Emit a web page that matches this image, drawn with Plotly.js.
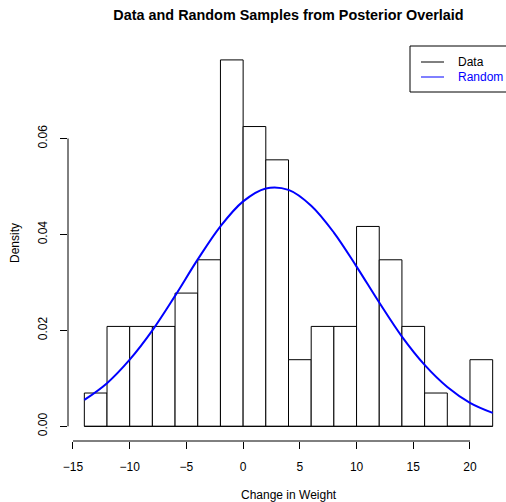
<!DOCTYPE html>
<html>
<head>
<meta charset="utf-8">
<script src="https://cdn.plot.ly/plotly-3.0.1.min.js"></script>
<style>
html,body{margin:0;padding:0;overflow:hidden;background:#fff;}
#chart{width:510px;height:502px;}
</style>
</head>
<body>
<div id="chart"></div>
<script>
// Histogram bins (left edges, width 2) and densities
const binLeft = [-14,-12,-10,-8,-6,-4,-2,0,2,4,6,8,10,12,14,16,18,20];
const binWidth = 2;
const density = [0.00694,0.02083,0.02083,0.02083,0.02778,0.03472,0.07639,0.0625,0.05556,0.01389,0.02083,0.02083,0.04167,0.03472,0.02083,0.00694,0,0.01389];

// Overlaid curve
const curveX = [-14,-12,-10,-8,-6,-4,-2,0,2,4,6,8,10,12,14,16,18,20,22];
const curveY = [0.0055,0.0090,0.0139,0.0200,0.0272,0.0348,0.0417,0.0469,0.0496,0.0493,0.0460,0.0404,0.0333,0.0258,0.0187,0.0128,0.0082,0.0049,0.0028];

const xTicks = [-15,-10,-5,0,5,10,15,20];
const yTicks = [0,0.02,0.04,0.06];
const legendLabels = ["Data","Random"];
const legendColors = ["#000000","#0000ff"];

const FONT = "Liberation Sans, Arial, Helvetica, sans-serif";
const W = 510, H = 502, ML = 68, MR = 1, MT = 45, MB = 61;
const PW = W - ML - MR, PH = H - MT - MB;
const px = v => (v - ML) / PW;          // pixel x -> paper x
const py = v => (H - MB - v) / PH;      // pixel y -> paper y

const centers = binLeft.map(b => b + binWidth / 2);

const traces = [
  {
    type: 'bar',
    x: centers,
    y: density,
    width: binLeft.map(() => binWidth),
    marker: {color: 'rgba(255,255,255,1)', line: {color: '#000', width: 1}},
    hoverinfo: 'skip',
    showlegend: false
  },
  {
    type: 'scatter',
    mode: 'lines',
    x: curveX,
    y: curveY,
    line: {color: '#0000ff', width: 2, shape: 'spline', smoothing: 1},
    hoverinfo: 'skip',
    showlegend: false
  }
];

const shapes = [
  // baseline under histogram
  {type:'line', xref:'x', yref:'y', x0: binLeft[0], x1: binLeft[binLeft.length-1] + binWidth, y0: 0, y1: 0, line:{color:'#000', width:1}},
  // x axis line (R style, tick span only)
  {type:'line', xref:'x', yref:'paper', x0: xTicks[0], x1: xTicks[xTicks.length-1], y0: 0, y1: 0, line:{color:'#000', width:1}},
  // y axis line
  {type:'line', xref:'paper', yref:'y', x0: 0, x1: 0, y0: yTicks[0], y1: yTicks[yTicks.length-1], line:{color:'#000', width:1}},
  // legend box
  {type:'rect', xref:'paper', yref:'paper', x0: px(410), x1: px(509), y0: py(92), y1: py(46), line:{color:'#000', width:1}, fillcolor:'rgba(255,255,255,1)'}
];

const annotations = [
  {text:'Density', xref:'paper', yref:'paper', x:0, y:0.5, xshift: 15 - ML, textangle:-90, showarrow:false, xanchor:'center', yanchor:'middle', font:{family:FONT, size:12, color:'#000'}},
  {text:'Change in Weight', xref:'paper', yref:'paper', x:0.5, y:0, yshift: -(495 - (H - MB)), showarrow:false, xanchor:'center', yanchor:'middle', font:{family:FONT, size:12, color:'#000'}}
];

const legendY = [62, 77];
legendLabels.forEach((lab, i) => {
  shapes.push({type:'line', xref:'paper', yref:'paper', x0: px(421), x1: px(444), y0: py(legendY[i]), y1: py(legendY[i]), line:{color: legendColors[i], width:1}});
  annotations.push({text: lab, xref:'paper', yref:'paper', x: px(456), y: py(legendY[i]), xanchor:'left', yanchor:'middle', showarrow:false, font:{family:FONT, size:12, color: legendColors[i]}});
});

const layout = {
  width: W, height: H,
  margin: {l: ML, r: MR, t: MT, b: MB, pad: 0},
  paper_bgcolor: '#fff', plot_bgcolor: '#fff',
  font: {family: FONT, size: 12, color: '#000'},
  title: {
    text: '<b>Data and Random Samples from Posterior Overlaid</b>',
    font: {family: FONT, size: 14.4, color: '#000'},
    xref: 'container', yref: 'container',
    x: 288.5 / W, y: 1 - 15 / H, xanchor: 'center', yanchor: 'middle'
  },
  xaxis: {
    range: [-15.44, 23.44],
    tickvals: xTicks,
    ticks: 'outside', ticklen: 7, tickwidth: 1, tickcolor: '#000',
    ticklabelstandoff: 8,
    showline: false, showgrid: false, zeroline: false,
    tickfont: {family: FONT, size: 12, color: '#000'},
    fixedrange: true
  },
  yaxis: {
    range: [-0.00306, 0.0795],
    tickvals: yTicks,
    ticktext: yTicks.map(v => v.toFixed(2)),
    tickangle: -90,
    ticks: 'outside', ticklen: 7, tickwidth: 1, tickcolor: '#000',
    ticklabelstandoff: 8,
    showline: false, showgrid: false, zeroline: false,
    tickfont: {family: FONT, size: 12, color: '#000'},
    fixedrange: true
  },
  bargap: 0,
  shapes: shapes,
  annotations: annotations,
  showlegend: false
};

Plotly.newPlot('chart', traces, layout, {staticPlot: true, displayModeBar: false});
</script>
</body>
</html>
